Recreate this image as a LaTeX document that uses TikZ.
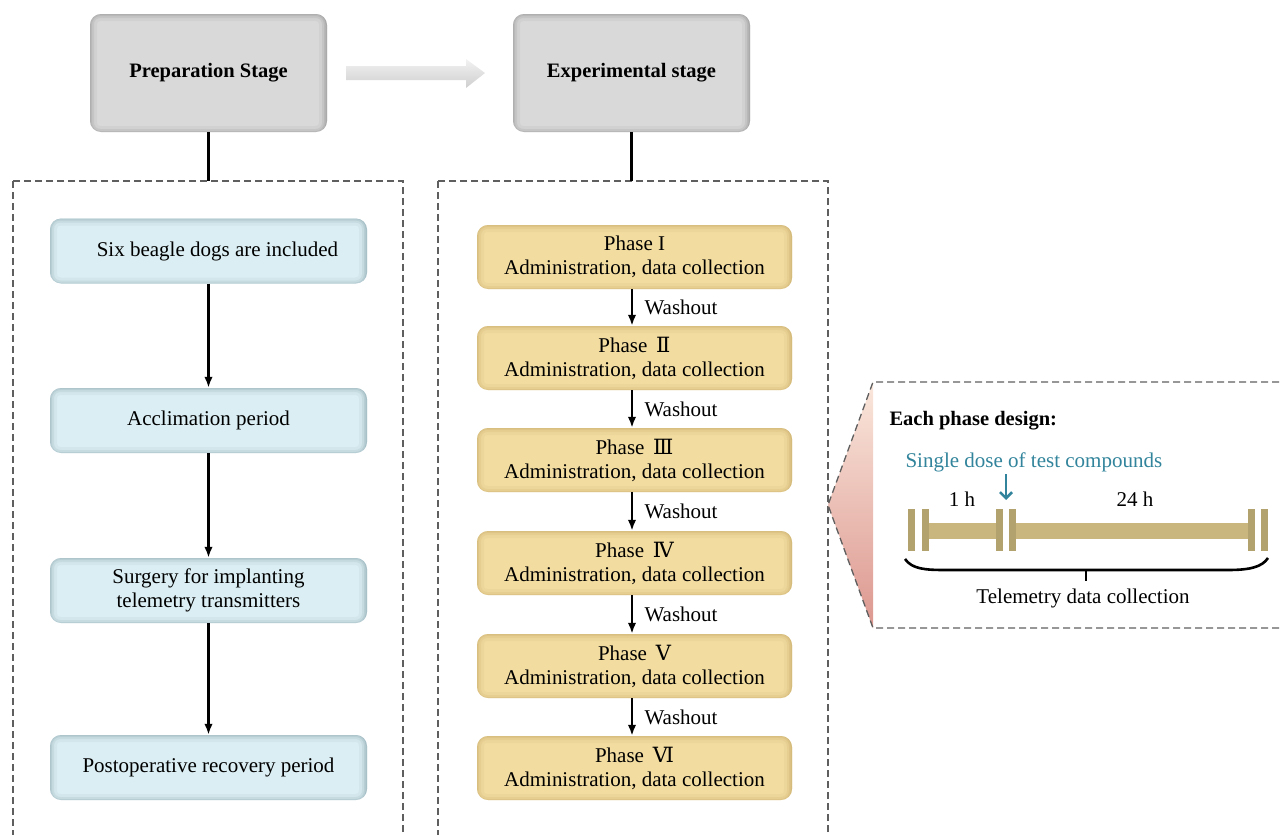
\documentclass[tikz,border=0pt]{standalone}
\usepackage{fontspec}
\setmainfont{Liberation Serif}
\newfontfamily\numfont{DejaVu Serif}
\usetikzlibrary{arrows.meta}
\definecolor{grayc}{HTML}{D9D9D9}
\definecolor{graye}{HTML}{8C8C8C}
\definecolor{bluec}{HTML}{DBEEF3}
\definecolor{bluee}{HTML}{86A2AB}
\definecolor{yelc}{HTML}{F2DCA0}
\definecolor{yele}{HTML}{C2A866}
\definecolor{tealc}{HTML}{31849B}
\definecolor{barc}{HTML}{B2A26E}
\definecolor{bars}{HTML}{C9B67F}
\definecolor{barl}{HTML}{E6D49E}
\definecolor{dashc}{HTML}{5F5F5F}
\definecolor{trit}{HTML}{FAE7DC}
\definecolor{trim}{HTML}{EED7DB}
\definecolor{trib}{HTML}{DC978F}
\begin{document}
\begin{tikzpicture}[x=1pt,y=-1pt,font=\fontsize{21}{24}\selectfont,
  softbox/.style 2 args={rounded corners=11pt, fill=#1, inner sep=0pt, align=center,
    path picture={
      \foreach \w/\o in {16/0.10,10/0.16,6/0.22,3/0.3}
        \draw[#2, line width=\w pt, opacity=\o, rounded corners=11pt]
          ([xshift=-1pt,yshift=-2pt]path picture bounding box.south west) rectangle ([yshift=1pt]path picture bounding box.north east);}},
  stagebox/.style={softbox={grayc}{graye}, minimum width=237pt, minimum height=118pt, font=\fontsize{20.5}{24}\selectfont\bfseries},
  bluebox/.style={softbox={bluec}{bluee}, minimum width=317pt, minimum height=65pt},
  yelbox/.style={softbox={yelc}{yele}, minimum width=315pt, minimum height=64pt},
  dashbox/.style={draw=dashc, line width=1.3pt, dash pattern=on 7pt off 4pt},
  flow/.style={line width=2.4pt, -{Latex[length=11pt,width=8.5pt]}},
  link/.style={line width=2.4pt},
]
\useasboundingbox (0,0) rectangle (1283,835);

% stage boxes
\node[stagebox] (prep) at (208.5,73) {Preparation Stage};
\node[stagebox] (expt) at (631.5,73) {Experimental stage};

% big gray arrow
\shade[top color=gray!10, bottom color=gray!38]
  (346,66) -- (466,66) -- (466,59) -- (485,73) -- (466,88) -- (466,80) -- (346,80) -- cycle;

% dashed panels
\draw[dashbox] (13,181) rectangle (403,845);
\draw[dashbox] (438,181) rectangle (828,845);
\coordinate (lt) at (208.5,181);
\coordinate (rt) at (631.5,181);
\draw[link] (prep.south) -- (lt);
\draw[link] (expt.south) -- (rt);

% left column
\node[bluebox] (b1) at (208.5,251) {\hspace*{18pt}Six beagle dogs are included};
\node[bluebox] (b2) at (208.5,420.5) {Acclimation period};
\node[bluebox] (b3) at (208.5,590.5) {Surgery for implanting\\telemetry transmitters};
\node[bluebox] (b4) at (208.5,767.5) {Postoperative recovery period};
\draw[flow] (b1) -- (b2);
\draw[flow] (b2) -- (b3);
\draw[flow] (b3) -- (b4);

% right column
\node[yelbox] (p1) at (634.5,257) {Phase I\\Administration, data collection};
\node[yelbox] (p2) at (634.5,358) {Phase \,{\numfont Ⅱ}\\Administration, data collection};
\node[yelbox] (p3) at (634.5,460) {Phase \,{\numfont Ⅲ}\\Administration, data collection};
\node[yelbox] (p4) at (634.5,563) {Phase \,{\numfont Ⅳ}\\Administration, data collection};
\node[yelbox] (p5) at (634.5,666) {Phase \,{\numfont Ⅴ}\\Administration, data collection};
\node[yelbox] (p6) at (634.5,768) {Phase \,{\numfont Ⅵ}\\Administration, data collection};
\foreach \a/\b in {p1/p2,p2/p3,p3/p4,p4/p5,p5/p6}{
  \draw[flow] ([xshift=-2.5pt]\a.south) -- ([xshift=-2.5pt]\b.north)
    node[midway, anchor=west, xshift=8pt] (w\a) {Washout};
}

% callout panel
\shade[top color=trit, middle color=trim, bottom color=trib]
  (873,382) -- (828,505) -- (873,628) -- cycle;
\draw[dashbox] (1290,382) -- (873,382) -- (828,505) -- (873,628) -- (1290,628);

\node[anchor=west, font=\fontsize{20.5}{24}\selectfont\bfseries] (eh) at (886,421) {Each phase design:};
\node[anchor=west, text=tealc] (sd) at (902,462) {Single dose of test compounds};
\coordinate (dt) at (1006,500);
\draw[tealc, line width=2.6pt, -{Straight Barb[length=6pt,width=12pt]}] (1006,474) -- (dt);
\node (h1) at (962,499) {1 h};
\node (h24) at (1135,499) {24 h};

% timeline
\shade[top color=bars, middle color=barl, bottom color=bars] (928,523) rectangle (997,538);
\shade[top color=bars, middle color=barl, bottom color=bars] (1015,523) rectangle (1249,538);
\foreach \x in {908,922,996,1009,1248,1261}
  \fill[barc] (\x,509) rectangle (\x+6.5,551);

% brace
\draw[line width=2.6pt] (905,559) .. controls (912,569) and (925,570) .. (945,570)
  -- (1228,570) .. controls (1250,570) and (1262,567) .. (1268,558);
\draw[line width=2.6pt] (1086,570) -- (1086,581);
\node (tel) at (1083,598) {Telemetry data collection};
\end{tikzpicture}
\end{document}
